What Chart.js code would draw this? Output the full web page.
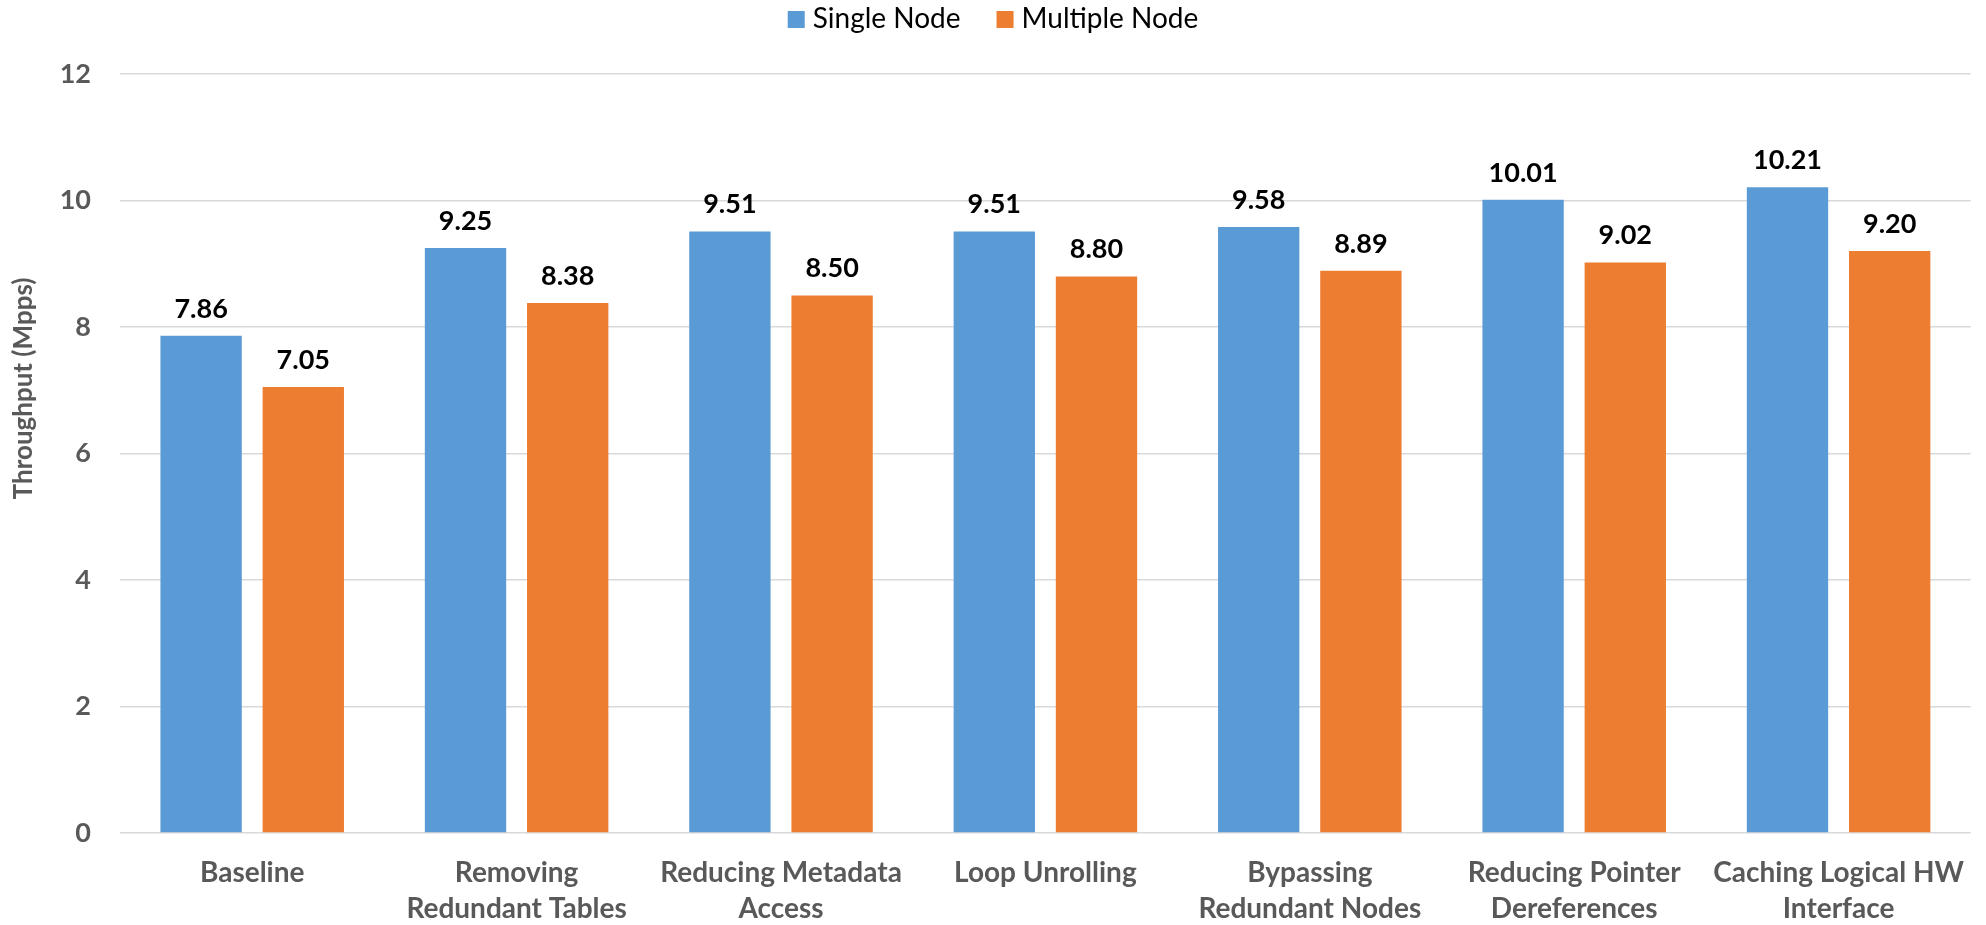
<!DOCTYPE html>
<html>
<head>
<meta charset="utf-8">
<script src="https://cdn.jsdelivr.net/npm/chart.js@4.4.1/dist/chart.umd.min.js"></script>
<style>
  html, body { margin: 0; padding: 0; background: #ffffff; }
  #wrap { width: 1986px; height: 925px; position: relative; }
</style>
</head>
<body>
<div id="wrap"><canvas id="chart" width="1986" height="925"></canvas></div>
<script>
// Optimisation steps (x-axis categories)
const categories = [
  ['Baseline'],
  ['Removing', 'Redundant Tables'],
  ['Reducing Metadata', 'Access'],
  ['Loop Unrolling'],
  ['Bypassing', 'Redundant Nodes'],
  ['Reducing Pointer', 'Dereferences'],
  ['Caching Logical HW', 'Interface']
];

// Throughput in Mpps
const singleNode   = [7.86, 9.25, 9.51, 9.51, 9.58, 10.01, 10.21];
const multipleNode = [7.05, 8.38, 8.50, 8.80, 8.89, 9.02, 9.20];

const seriesNames = ['Single Node', 'Multiple Node'];
const yTicks = [0, 2, 4, 6, 8, 10, 12];
const yTitle = 'Throughput (Mpps)';

const FONT = 'Lato, "Open Sans", sans-serif';
const GREY = '#595959';

// Value labels drawn above every bar
const valueLabels = {
  id: 'valueLabels',
  afterDatasetsDraw(chart) {
    const ctx = chart.ctx;
    ctx.save();
    ctx.font = 'bold 27px ' + FONT;
    ctx.fillStyle = '#000000';
    ctx.textAlign = 'center';
    ctx.textBaseline = 'alphabetic';
    chart.data.datasets.forEach((ds, i) => {
      chart.getDatasetMeta(i).data.forEach((bar, j) => {
        ctx.fillText(ds.data[j].toFixed(2), bar.x, bar.y - 18);
      });
    });
    ctx.restore();
  }
};

// Legend row centred at the top
const topLegend = {
  id: 'topLegend',
  afterDraw(chart) {
    const ctx = chart.ctx;
    ctx.save();
    ctx.font = '28px ' + FONT;
    ctx.textBaseline = 'alphabetic';
    const box = 17, gapText = 8, gapItem = 36;
    const items = chart.data.datasets.map(ds => ({
      label: ds.label, color: ds.backgroundColor, w: ctx.measureText(ds.label).width
    }));
    let total = 0;
    items.forEach((it, k) => { total += box + gapText + it.w + (k ? gapItem : 0); });
    let x = chart.width / 2 - total / 2;
    items.forEach((it, k) => {
      if (k) x += gapItem;
      ctx.fillStyle = it.color;
      ctx.fillRect(x, 11, box, box);
      x += box + gapText;
      ctx.fillStyle = '#000000';
      ctx.fillText(it.label, x, 28);
      x += it.w;
    });
    ctx.restore();
  }
};

// Rotated y-axis title, sitting a little above the axis midpoint
const yAxisTitle = {
  id: 'yAxisTitle',
  afterDraw(chart) {
    const ctx = chart.ctx;
    const area = chart.chartArea;
    ctx.save();
    ctx.font = 'bold 26px ' + FONT;
    ctx.fillStyle = GREY;
    ctx.textAlign = 'center';
    ctx.textBaseline = 'middle';
    ctx.translate(24, (area.top + area.bottom) / 2 - 65);
    ctx.rotate(-Math.PI / 2);
    ctx.fillText(yTitle, 0, 0);
    ctx.restore();
  }
};

new Chart(document.getElementById('chart'), {
  type: 'bar',
  data: {
    labels: categories,
    datasets: [
      { label: seriesNames[0], data: singleNode,   backgroundColor: '#5B9BD5' },
      { label: seriesNames[1], data: multipleNode, backgroundColor: '#ED7D31' }
    ]
  },
  options: {
    responsive: false,
    animation: false,
    devicePixelRatio: 1,
    layout: { padding: { top: 74, right: 1, left: 0, bottom: 0 } },
    datasets: { bar: { categoryPercentage: 0.773, barPercentage: 0.796 } },
    plugins: {
      legend: { display: false },
      tooltip: { enabled: false }
    },
    scales: {
      x: {
        grid: { display: false, drawTicks: false },
        border: { display: false },
        ticks: {
          color: GREY,
          font: { family: FONT, size: 28, weight: 'bold', lineHeight: 1.29 },
          padding: 22,
          maxRotation: 0,
          autoSkip: false
        },
        afterFit(scale) { scale.height = 92; }
      },
      y: {
        min: 0,
        max: 12,
        afterBuildTicks(scale) { scale.ticks = yTicks.map(v => ({ value: v })); },
        grid: { color: '#d9d9d9', lineWidth: 1.5, drawTicks: false },
        border: { display: false },
        ticks: {
          color: GREY,
          font: { family: FONT, size: 27, weight: 'bold' },
          padding: 29
        },
        afterFit(scale) { scale.width = 120; }
      }
    }
  },
  plugins: [valueLabels, topLegend, yAxisTitle]
});
</script>
</body>
</html>
